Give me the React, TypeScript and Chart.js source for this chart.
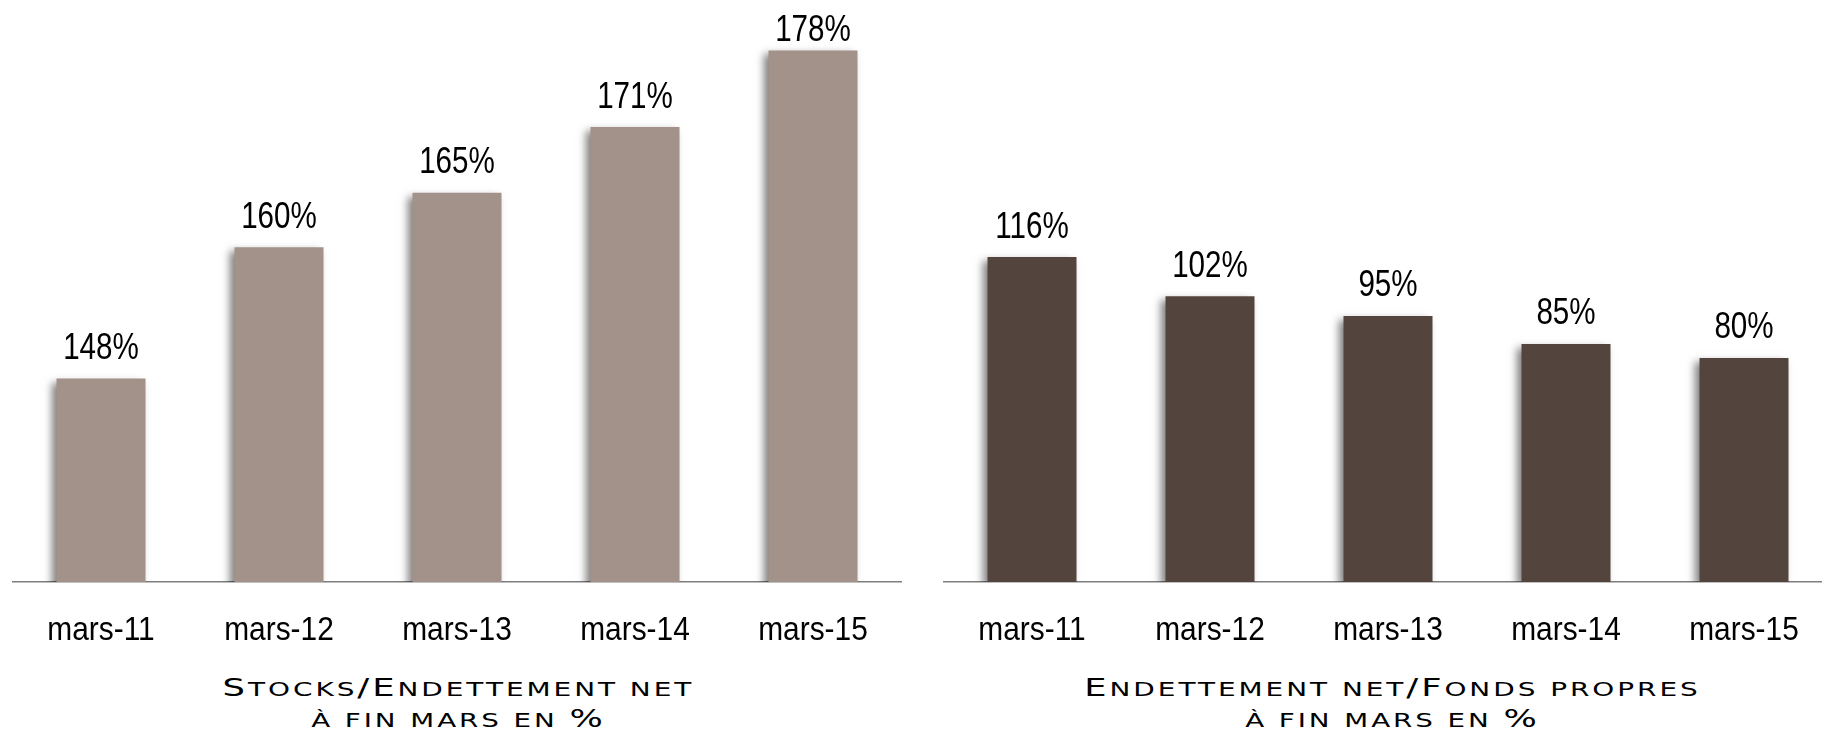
import React, { useEffect, useLayoutEffect, useRef } from "react";
import { Chart, registerables } from "chart.js";

Chart.register(...registerables);

const categories = ["mars-11", "mars-12", "mars-13", "mars-14", "mars-15"];
const stocksValues = [148, 160, 165, 171, 178];
const endettementValues = [116, 102, 95, 85, 80];
const leftCaption = ["Stocks/Endettement net", "à fin mars en %"];
const rightCaption = ["Endettement net/Fonds propres", "à fin mars en %"];

const LABEL_FONT = "'Liberation Sans', Arial, sans-serif";

const shadowPlugin = {
  id: "barShadow",
  beforeDatasetsDraw(chart: any) {
    const ctx = chart.ctx;
    ctx.save();
    ctx.shadowColor = "rgba(0,0,0,0.5)";
    ctx.shadowBlur = 8;
    ctx.shadowOffsetX = -5;
    ctx.shadowOffsetY = 4;
  },
  afterDatasetsDraw(chart: any) {
    chart.ctx.restore();
  },
};

function drawCondensed(ctx: any, text: string, x: number, y: number, size: number, sx: number) {
  ctx.save();
  ctx.font = `${size}px ${LABEL_FONT}`;
  ctx.fillStyle = "#000";
  ctx.textAlign = "center";
  ctx.textBaseline = "alphabetic";
  ctx.translate(x, y);
  ctx.scale(sx, 1);
  ctx.fillText(text, 0, 0);
  ctx.restore();
}

const labelPlugin = {
  id: "labels",
  afterDatasetsDraw(chart: any) {
    const ctx = chart.ctx;
    const meta = chart.getDatasetMeta(0);
    const data = chart.data.datasets[0].data;
    meta.data.forEach((bar: any, i: number) => {
      const y = Math.max(bar.y - 19.5, 40.7);
      drawCondensed(ctx, `${data[i]}%`, bar.x, y, 37, 0.8);
    });
    const xs = chart.scales.x;
    chart.data.labels.forEach((lab: string, i: number) => {
      drawCondensed(ctx, lab, xs.getPixelForValue(i), chart.chartArea.bottom + 58, 32.5, 0.92);
    });
  },
};

function BarChart({ values, color, min, max }: { values: number[]; color: string; min: number; max: number }) {
  const ref = useRef<HTMLCanvasElement>(null);
  useEffect(() => {
    if (!ref.current) return;
    const chart = new Chart(ref.current, {
      type: "bar",
      data: {
        labels: categories,
        datasets: [
          {
            data: values,
            backgroundColor: color,
            borderWidth: 0,
            barPercentage: 0.5,
            categoryPercentage: 1.0,
          },
        ],
      },
      options: {
        animation: false,
        responsive: false,
        maintainAspectRatio: false,
        layout: { padding: { top: 10, left: 0, right: 0, bottom: 0 } },
        plugins: { legend: { display: false }, tooltip: { enabled: false }, title: { display: false } },
        scales: {
          x: {
            grid: { display: false, drawTicks: false },
            border: { display: true, color: "#7f7f7f", width: 1.5 },
            ticks: { display: false },
            afterFit: (s: any) => {
              s.height = 78;
            },
          },
          y: { display: false, min, max },
        },
      },
      plugins: [shadowPlugin, labelPlugin],
    });
    return () => chart.destroy();
  }, []);
  return <canvas ref={ref} width={890} height={660} style={{ width: 890, height: 660, display: "block" }} />;
}

const CAP_SIZE = 24;
const SMALL_SIZE = 19;
const SPACING = 2;

function SmallCaps({ text }: { text: string }) {
  const parts = Array.from(text).map((ch, i) => {
    const isUpper = ch === "/" || ch === "%" || (ch !== ch.toLowerCase() && ch === ch.toUpperCase());
    return (
      <span key={i} style={{ fontSize: isUpper ? CAP_SIZE : SMALL_SIZE }}>
        {ch.toUpperCase()}
      </span>
    );
  });
  return <>{parts}</>;
}

function CaptionLine({ text, cx, top, width }: { text: string; cx: number; top: number; width: number }) {
  const ref = useRef<HTMLDivElement>(null);
  useLayoutEffect(() => {
    const el = ref.current;
    if (!el) return;
    const w = el.scrollWidth - SPACING;
    const s = width / w;
    el.style.transform = `translateX(-50%) scaleX(${s})`;
  }, []);
  return (
    <div
      ref={ref}
      style={{
        position: "absolute",
        left: cx,
        top,
        fontFamily: "'DejaVu Sans', sans-serif",
        fontSize: CAP_SIZE,
        letterSpacing: SPACING,
        paddingLeft: SPACING,
        lineHeight: "24px",
        color: "#000",
        whiteSpace: "nowrap",
        transformOrigin: "50% 0",
      }}
    >
      <SmallCaps text={text} />
    </div>
  );
}

export default function App() {
  return (
    <div style={{ position: "absolute", left: 0, top: 0, width: 1822, height: 733, overflow: "hidden", background: "#fff" }}>
      <div style={{ position: "absolute", left: 12, top: 0 }}>
        <BarChart values={stocksValues} color="#a39289" min={129.4} max={181.7} />
      </div>
      <div style={{ position: "absolute", left: 943, top: 0 }}>
        <BarChart values={endettementValues} color="#53453e" min={0} max={204.2} />
      </div>
      <CaptionLine text={leftCaption[0]} cx={457} top={676} width={472} />
      <CaptionLine text={leftCaption[1]} cx={457} top={707} width={295} />
      <CaptionLine text={rightCaption[0]} cx={1391} top={676} width={616} />
      <CaptionLine text={rightCaption[1]} cx={1391} top={707} width={295} />
    </div>
  );
}
